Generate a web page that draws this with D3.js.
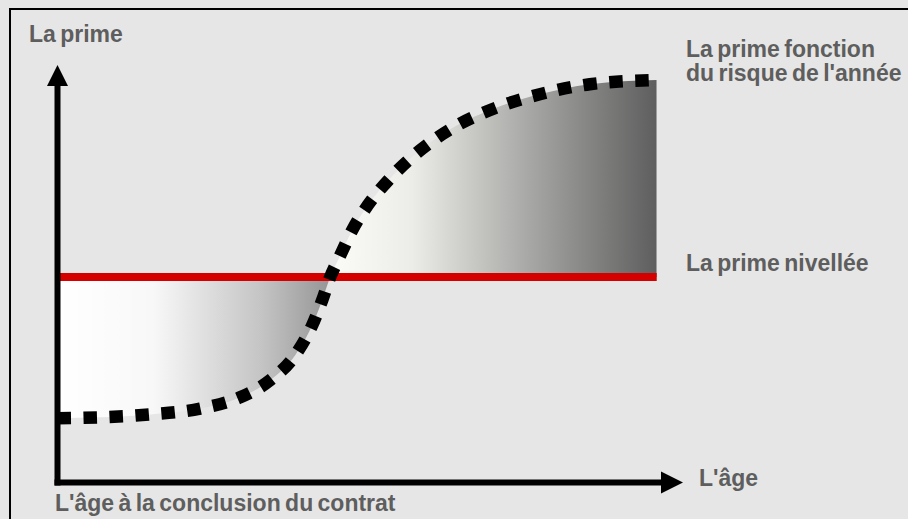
<!DOCTYPE html>
<html lang="fr">
<head>
<meta charset="utf-8">
<script src="https://cdn.jsdelivr.net/npm/d3@7"></script>
<style>
  html, body { margin: 0; padding: 0; background: #e6e6e6; }
  svg { display: block; }
  .lbl { font-family: "Liberation Sans", Arial, sans-serif; font-weight: bold; font-size: 23px; fill: #5e5e5e; word-spacing: -2px; }
</style>
</head>
<body>
<script>
// Age (0–100 scale) and premium (0–100 scale) along the risk-based premium curve
const ages        = [0, 6.8, 14.8, 22.8, 29.2, 34.0, 38.0, 40.7, 42.3, 43.6, 45.2, 47.1, 49.6, 53.2, 58.0, 63.6, 70.0, 77.1, 85.1, 95.8];
const riskPremium = [15.4, 15.6, 16.3, 17.7, 20.4, 24.5, 30.5, 37.6, 43.6, 49.2, 54.4, 60.4, 66.4, 72.9, 79.6, 85.3, 89.7, 93.0, 95.4, 96.4];
// Level premium, constant over the whole contract
const levelPremium = 49.2;

const labelYAxis   = "La prime";
const labelXAxis   = "L'âge";
const labelStart   = "L'âge à la conclusion du contrat";
const labelRisk    = ["La prime fonction", "du risque de l'année"];
const labelLevel   = "La prime nivellée";

const W = 908, H = 519;
const svg = d3.select("body").append("svg").attr("width", W).attr("height", H);

const x = d3.scaleLinear().domain([0, 100]).range([57.5, 683]);
const y = d3.scaleLinear().domain([0, 100]).range([482.5, 65]);

const pts = ages.map((a, i) => ({ a, p: riskPremium[i] }));

// age where the risk premium meets the level premium
let crossAge = ages[0];
for (let i = 1; i < pts.length; i++) {
  const p0 = pts[i - 1], p1 = pts[i];
  if ((p0.p - levelPremium) * (p1.p - levelPremium) <= 0) {
    const t = (levelPremium - p0.p) / ((p1.p - p0.p) || 1);
    crossAge = p0.a + t * (p1.a - p0.a);
    break;
  }
}
const endAge = ages[ages.length - 1];

// outer frame
svg.append("rect").attr("x", 10).attr("y", 9).attr("width", W + 20).attr("height", H + 20)
  .attr("fill", "#e6e6e6").attr("stroke", "#000").attr("stroke-width", 2);

const defs = svg.append("defs");

const gLow = defs.append("linearGradient").attr("id", "gLow")
  .attr("gradientUnits", "userSpaceOnUse")
  .attr("x1", x(0)).attr("x2", x(crossAge)).attr("y1", 0).attr("y2", 0);
gLow.append("stop").attr("offset", 0).attr("stop-color", "#ffffff");
gLow.append("stop").attr("offset", 0.35).attr("stop-color", "#f8f8f8");
gLow.append("stop").attr("offset", 0.75).attr("stop-color", "#c4c4c4");
gLow.append("stop").attr("offset", 1).attr("stop-color", "#959595");

const gHigh = defs.append("linearGradient").attr("id", "gHigh")
  .attr("gradientUnits", "userSpaceOnUse")
  .attr("x1", x(crossAge)).attr("x2", x(endAge)).attr("y1", 0).attr("y2", 0);
gHigh.append("stop").attr("offset", 0).attr("stop-color", "#fbfbf8");
gHigh.append("stop").attr("offset", 0.25).attr("stop-color", "#ecece8");
gHigh.append("stop").attr("offset", 0.6).attr("stop-color", "#a9a9a7");
gHigh.append("stop").attr("offset", 1).attr("stop-color", "#5e5e5e");

defs.append("clipPath").attr("id", "cLow").append("rect")
  .attr("x", x(0)).attr("y", 0).attr("width", x(crossAge) - x(0)).attr("height", H);
defs.append("clipPath").attr("id", "cHigh").append("rect")
  .attr("x", x(crossAge)).attr("y", 0).attr("width", x(endAge) - x(crossAge)).attr("height", H);

const area = d3.area()
  .x(d => x(d.a))
  .y0(y(levelPremium))
  .y1(d => y(d.p))
  .curve(d3.curveMonotoneX);

svg.append("path").datum(pts).attr("d", area).attr("fill", "url(#gLow)").attr("clip-path", "url(#cLow)");
svg.append("path").datum(pts).attr("d", area).attr("fill", "url(#gHigh)").attr("clip-path", "url(#cHigh)");

// level premium line
svg.append("line")
  .attr("x1", x(0)).attr("x2", x(endAge))
  .attr("y1", y(levelPremium)).attr("y2", y(levelPremium))
  .attr("stroke", "#d40000").attr("stroke-width", 8);

// risk premium, dotted
const line = d3.line().x(d => x(d.a)).y(d => y(d.p)).curve(d3.curveMonotoneX);
svg.append("path").datum(pts).attr("d", line)
  .attr("fill", "none").attr("stroke", "#000")
  .attr("stroke-width", 12.5).attr("stroke-dasharray", "13.5 12.5");

// axes with arrow heads
const x0 = x(0), y0 = y(0), xEnd = x(100), yEnd = y(100);
svg.append("line").attr("x1", x0).attr("x2", x0).attr("y1", y0 + 3).attr("y2", yEnd + 20)
  .attr("stroke", "#000").attr("stroke-width", 6);
svg.append("path").attr("d", `M${x0},${yEnd} L${x0 - 10.5},${yEnd + 21} L${x0 + 10.5},${yEnd + 21} Z`).attr("fill", "#000");
svg.append("line").attr("x1", x0 - 3).attr("x2", xEnd - 20).attr("y1", y0).attr("y2", y0)
  .attr("stroke", "#000").attr("stroke-width", 6);
svg.append("path").attr("d", `M${xEnd},${y0} L${xEnd - 22},${y0 - 11} L${xEnd - 22},${y0 + 11} Z`).attr("fill", "#000");

// labels
svg.append("text").attr("class", "lbl").attr("x", 29).attr("y", 42).text(labelYAxis);
svg.append("text").attr("class", "lbl").attr("x", 699).attr("y", 486).text(labelXAxis);
svg.append("text").attr("class", "lbl").attr("x", 55).attr("y", 511).text(labelStart);
svg.append("text").attr("class", "lbl").attr("x", 686).attr("y", y(levelPremium) - 6).text(labelLevel);
const risk = svg.append("text").attr("class", "lbl").attr("x", 686).attr("y", 57);
labelRisk.forEach((t, i) => risk.append("tspan").attr("x", 686).attr("dy", i ? 24 : 0).text(t));
</script>
</body>
</html>
